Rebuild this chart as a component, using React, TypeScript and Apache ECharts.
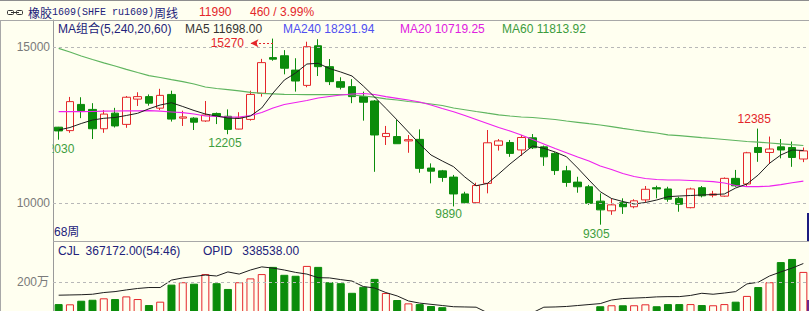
import React, { useEffect, useRef } from "react";
import * as echarts from "echarts";

// ---- data ----
const opens = [12430,12320,13160,13000,12380,12880,12520,13330,13410,13040,13480,12720,12720,12630,12870,12780,12370,12680,13520,14660,14720,14260,13770,15040,14370,13890,13730,13410,13270,12130,12130,11990,12040,11120,11030,10830,10290,10010,10630,11850,11940,11700,12090,11800,11590,11030,10670,10520,10060,9750,10010,9880,10100,10490,10450,10150,9850,10490,10250,10220,10790,10610,11780,11620,11800,11780,11410];
const closes = [12310,13250,12960,12380,12850,12470,13390,13410,13200,13450,12690,12760,12590,12820,12790,12360,12730,13480,14500,14610,14320,13910,15010,14370,13890,13710,13410,13230,12180,12230,11900,12030,11110,11020,10820,10290,10010,10560,11930,11990,11590,12100,11770,11480,11040,10660,10520,9990,9780,9940,9880,10070,10440,10450,10120,9960,10450,10230,10290,10790,10550,11610,11620,11730,11700,11460,11670];
const lows = [12030,12250,12720,12050,12250,12420,12410,13110,13120,12980,12610,12470,12340,12600,12530,12205,12360,12640,13410,14560,14125,13570,13710,14070,13780,13640,13200,12640,11000,11860,11900,11610,10970,10630,10680,9890,9990,10000,10310,11680,11480,11510,11730,11190,10900,10520,10330,9940,9305,9620,9650,9830,10020,10150,10040,9720,9830,10180,10180,10200,10520,10520,11320,11250,11430,11160,11310];
const highs = [12440,13400,13390,13200,12980,13050,13430,13550,13480,13660,13600,12960,12750,13270,12900,13000,12910,13600,14620,15270,14900,14640,15170,15250,14615,14030,13970,13570,13300,12470,12660,12180,12360,11270,11060,10900,10360,10650,12340,12050,12020,12180,12210,11840,11630,11190,10840,10580,10310,10150,10150,10120,10545,10555,10520,10200,10490,10545,10390,10820,11060,11640,12385,12130,12050,11970,11780];
const ma5 = [12340,12420,12548,12660,12715,12741,12805,12875,13019,13141,13215,13093,12965,12853,12789,12724,12708,12789,13045,13526,13942,14167,14455,14478,14311,14199,14071,13750,13398,13035,12660,12276,11891,11539,11346,11164,10833,10555,10626,10930,11250,11539,11827,11753,11635,11484,11122,10737,10362,10144,10048,9968,10016,10096,10202,10224,10240,10257,10272,10289,10481,10609,10898,11273,11539,11699,11683];
const ma20 = [12926,12926,12926,12933,12942,12949,12952,12955,12958,12942,12917,12894,12853,12789,12773,12750,12757,12805,12901,13045,13157,13221,13285,13365,13414,13462,13494,13510,13478,13407,13356,13301,13237,13141,13029,12926,12805,12676,12548,12420,12308,12180,12035,11891,11747,11612,11475,11346,11186,11074,10946,10850,10785,10753,10737,10737,10721,10705,10683,10641,10561,10523,10523,10540,10590,10650,10700];
const ma60 = [14958,14840,14711,14599,14494,14391,14285,14183,14083,14022,13955,13891,13814,13718,13670,13635,13596,13548,13516,13500,13484,13478,13474,13471,13474,13478,13462,13430,13391,13340,13301,13253,13221,13173,13125,13045,12990,12933,12878,12827,12789,12757,12741,12709,12676,12628,12587,12542,12500,12449,12394,12340,12289,12244,12186,12157,12128,12096,12067,12035,12003,11971,11949,11923,11898,11869,11843];
// volume in 万
const volumes = [108,107,122,126,132,129,140,129,104,118,189,199,193,233,195,171,199,215,233,263,230,226,267,263,199,195,155,180,213,154,125,111,108,100,95,70,65,72,60,58,62,55,60,66,63,70,72,74,99,103,103,103,107,99,108,108,108,104,103,108,118,142,179,199,283,296,242];
// open interest, same scale as volume panel
const opid = [145,146,147,149,156,160,167,173,177,177,208,217,223,229,225,242,233,250,263,258,250,240,233,218,217,210,204,181,175,156,142,121,112,107,102,97,96,95,72,65,62,65,72,95,96,98,102,106,110,125,131,133,135,138,139,139,144,153,149,154,160,192,199,225,242,258,277];
const weeks = opens.map((_, i) => `W${i + 1}`);
const priceTicks = [10000, 15000];
const volumeTicks = [200];
const arrowLevel = 15120;

const BG = "#fffff0";
const RED = "#e4262a";
const GREEN = "#0b8c0b";
const LBL_GREEN = "#3e9e3e";
const NAVY = "#22227a";
const GRIDC = "#b8b8b8";
const FONT = "'Liberation Sans', 'Noto Sans CJK SC', sans-serif";

function txt(text: string, x: number, y: number, fill: string, extra: any = {}) {
  return {
    type: "text",
    x,
    y,
    z: 50,
    style: {
      text,
      fill,
      fontSize: 12,
      fontFamily: FONT,
      align: "left",
      verticalAlign: "middle",
      textAlign: "left",
      textVerticalAlign: "middle",
      ...extra,
    },
  };
}

function buildOption() {
  const candleData = opens.map((o, i) => [o, closes[i], lows[i], highs[i]]);
  const volData = volumes.map((v, i) => {
    const up = closes[i] >= opens[i];
    return {
      value: v,
      itemStyle: up
        ? { color: BG, borderColor: RED, borderWidth: 1 }
        : { color: GREEN, borderColor: GREEN, borderWidth: 1 },
    };
  });
  const labelBase = { show: true, fontSize: 12, fontFamily: FONT, formatter: "{c}" };
  return {
    animation: false,
    backgroundColor: BG,
    grid: [
      { left: 53, right: 0, top: 20, height: 221 },
      { left: 53, right: 0, top: 242, height: 88 },
    ],
    xAxis: [0, 1].map((g) => ({
      type: "category",
      gridIndex: g,
      data: weeks,
      boundaryGap: true,
      axisLine: { show: false },
      axisTick: { show: false },
      axisLabel: { show: false },
      splitLine: { show: false },
    })),
    yAxis: [
      {
        type: "value",
        gridIndex: 0,
        min: 8782,
        max: 15866,
        axisLine: { show: true, lineStyle: { color: "#9a9a9a" } },
        axisTick: { show: false },
        splitLine: { show: false },
        axisLabel: {
          customValues: priceTicks,
          formatter: (v: number) => String(v),
          color: "#7a7a7a",
          fontSize: 12,
          fontFamily: FONT,
          margin: 3,
        },
      },
      {
        type: "value",
        gridIndex: 1,
        min: 0,
        max: 366.67,
        axisLine: { show: true, lineStyle: { color: "#9a9a9a" } },
        axisTick: { show: false },
        splitLine: { show: false },
        axisLabel: {
          customValues: volumeTicks,
          formatter: (v: number) => `${v}万`,
          color: "#7a7a7a",
          fontSize: 12,
          fontFamily: FONT,
          margin: 4,
        },
      },
    ],
    series: [
      {
        type: "candlestick",
        xAxisIndex: 0,
        yAxisIndex: 0,
        data: candleData,
        barWidth: 8,
        itemStyle: { color: BG, color0: GREEN, borderColor: RED, borderColor0: GREEN, borderColorDoji: RED, borderWidth: 1 },
        markLine: {
          silent: true,
          symbol: "none",
          label: { show: false },
          data: [
            ...priceTicks.map((v) => ({ yAxis: v, lineStyle: { color: GRIDC, type: [3, 3], width: 1 } })),
            [
              { coord: [19, arrowLevel], symbol: "none", lineStyle: { color: RED, type: [2, 2], width: 1 } },
              { coord: [17, arrowLevel], symbol: "arrow", symbolSize: [6, 8] },
            ],
          ],
        },
        markPoint: {
          symbol: "circle",
          symbolSize: 0,
          silent: true,
          itemStyle: { color: "transparent" },
          data: [
            { coord: [0, lows[0]], value: lows[0], label: { ...labelBase, position: "bottom", distance: 3, color: LBL_GREEN, offset: [-1, 0] } },
            { coord: [15, lows[15]], value: lows[15], label: { ...labelBase, position: "bottom", distance: 3, color: LBL_GREEN, offset: [-3, 0] } },
            { coord: [35, lows[35]], value: lows[35], label: { ...labelBase, position: "bottom", distance: 2, color: LBL_GREEN, offset: [-5, 0] } },
            { coord: [48, lows[48]], value: lows[48], label: { ...labelBase, position: "bottom", distance: 3, color: LBL_GREEN, offset: [-4, 0] } },
            { coord: [62, highs[62]], value: highs[62], label: { ...labelBase, position: "top", distance: 4, color: RED, offset: [-4, 0] } },
            { coord: [19, arrowLevel], value: highs[19], label: { ...labelBase, position: "left", distance: 29, color: RED } },
          ],
        },
      },
      {
        type: "line", xAxisIndex: 0, yAxisIndex: 0, data: ma60, showSymbol: false, symbol: "none",
        lineStyle: { color: "#5fb55f", width: 1.2 }, silent: true,
      },
      {
        type: "line", xAxisIndex: 0, yAxisIndex: 0, data: ma20, showSymbol: false, symbol: "none",
        lineStyle: { color: "#ee22ee", width: 1.2 }, silent: true,
      },
      {
        type: "line", xAxisIndex: 0, yAxisIndex: 0, data: ma5, showSymbol: false, symbol: "none",
        lineStyle: { color: "#1e1e1e", width: 1 }, silent: true,
      },
      {
        type: "bar",
        xAxisIndex: 1,
        yAxisIndex: 1,
        data: volData,
        barWidth: 8,
        silent: true,
        markLine: {
          silent: true,
          symbol: "none",
          label: { show: false },
          data: volumeTicks.map((v) => ({ yAxis: v, lineStyle: { color: GRIDC, type: [3, 3], width: 1 } })),
        },
      },
      {
        type: "line", xAxisIndex: 1, yAxisIndex: 1, data: opid, showSymbol: false, symbol: "none",
        lineStyle: { color: "#1e1e1e", width: 1 }, silent: true,
      },
    ],
    graphic: [
      { type: "line", z: 40, shape: { x1: 0, y1: 0.5, x2: 809, y2: 0.5 }, style: { stroke: "#8e8e8e", lineWidth: 1 } },
      { type: "line", z: 40, shape: { x1: 0, y1: 20.5, x2: 809, y2: 20.5 }, style: { stroke: "#a8a8a8", lineWidth: 1 } },
      { type: "line", z: 40, shape: { x1: 0.5, y1: 20, x2: 0.5, y2: 311 }, style: { stroke: "#a8a8a8", lineWidth: 1 } },
      { type: "line", z: 40, shape: { x1: 53, y1: 241.5, x2: 809, y2: 241.5 }, style: { stroke: "#a8a8a8", lineWidth: 1 } },
      // cover left part of clipped low label
      { type: "rect", z: 100, shape: { x: 1, y: 140, width: 51.5, height: 16 }, style: { fill: BG } },
      // link icon
      { type: "rect", z: 50, shape: { x: 7.5, y: 10.5, width: 6, height: 4, r: 1 }, style: { fill: "none", stroke: "#333", lineWidth: 1 } },
      { type: "rect", z: 50, shape: { x: 16.5, y: 10.5, width: 6, height: 4, r: 1 }, style: { fill: "none", stroke: "#333", lineWidth: 1 } },
      { type: "line", z: 50, shape: { x1: 11, y1: 12.5, x2: 19, y2: 12.5 }, style: { stroke: "#333", lineWidth: 1 } },
      // right edge markers
      { type: "rect", z: 50, shape: { x: 807, y: 213, width: 2, height: 28 }, style: { fill: "#1c1c80" } },
      { type: "rect", z: 50, shape: { x: 807, y: 300, width: 2, height: 11 }, style: { fill: "#6a2a8a" } },
      {
        type: "text", x: 28, y: 12, z: 50,
        style: {
          text: "{c|橡胶}{l|1609(SHFE ru1609)}{c|周线}",
          fill: NAVY,
          verticalAlign: "middle",
          textVerticalAlign: "middle",
          rich: {
            c: { fontSize: 12, fontFamily: "'Noto Sans CJK SC'", fill: NAVY, color: NAVY },
            l: { fontSize: 10, fontFamily: "'Liberation Mono', monospace", fill: NAVY, color: NAVY },
          },
        },
      },
      txt("11990", 199, 12, RED),
      txt("460 / 3.99%", 250, 12, RED),
      txt("MA组合(5,240,20,60)", 58, 28.5, NAVY),
      txt("MA5 11698.00", 185, 28.5, "#333333"),
      txt("MA240 18291.94", 283, 28.5, "#5050f0"),
      txt("MA20 10719.25", 400, 28.5, "#e020e0"),
      txt("MA60 11813.92", 502, 28.5, "#3c9c3c"),
      txt("68周", 54, 232, NAVY),
      txt("CJL  367172.00(54:46)", 58, 251, NAVY),
      txt("OPID   338538.00", 203, 251, NAVY),
    ],
  };
}

export default function App() {
  const ref = useRef<HTMLDivElement>(null);
  useEffect(() => {
    if (!ref.current) return;
    const chart = echarts.init(ref.current, null, { renderer: "svg" });
    chart.setOption(buildOption() as any);
    return () => chart.dispose();
  }, []);
  return (
    <div
      ref={ref}
      style={{ position: "fixed", left: 0, top: 0, width: 809, height: 330, background: BG }}
    />
  );
}
